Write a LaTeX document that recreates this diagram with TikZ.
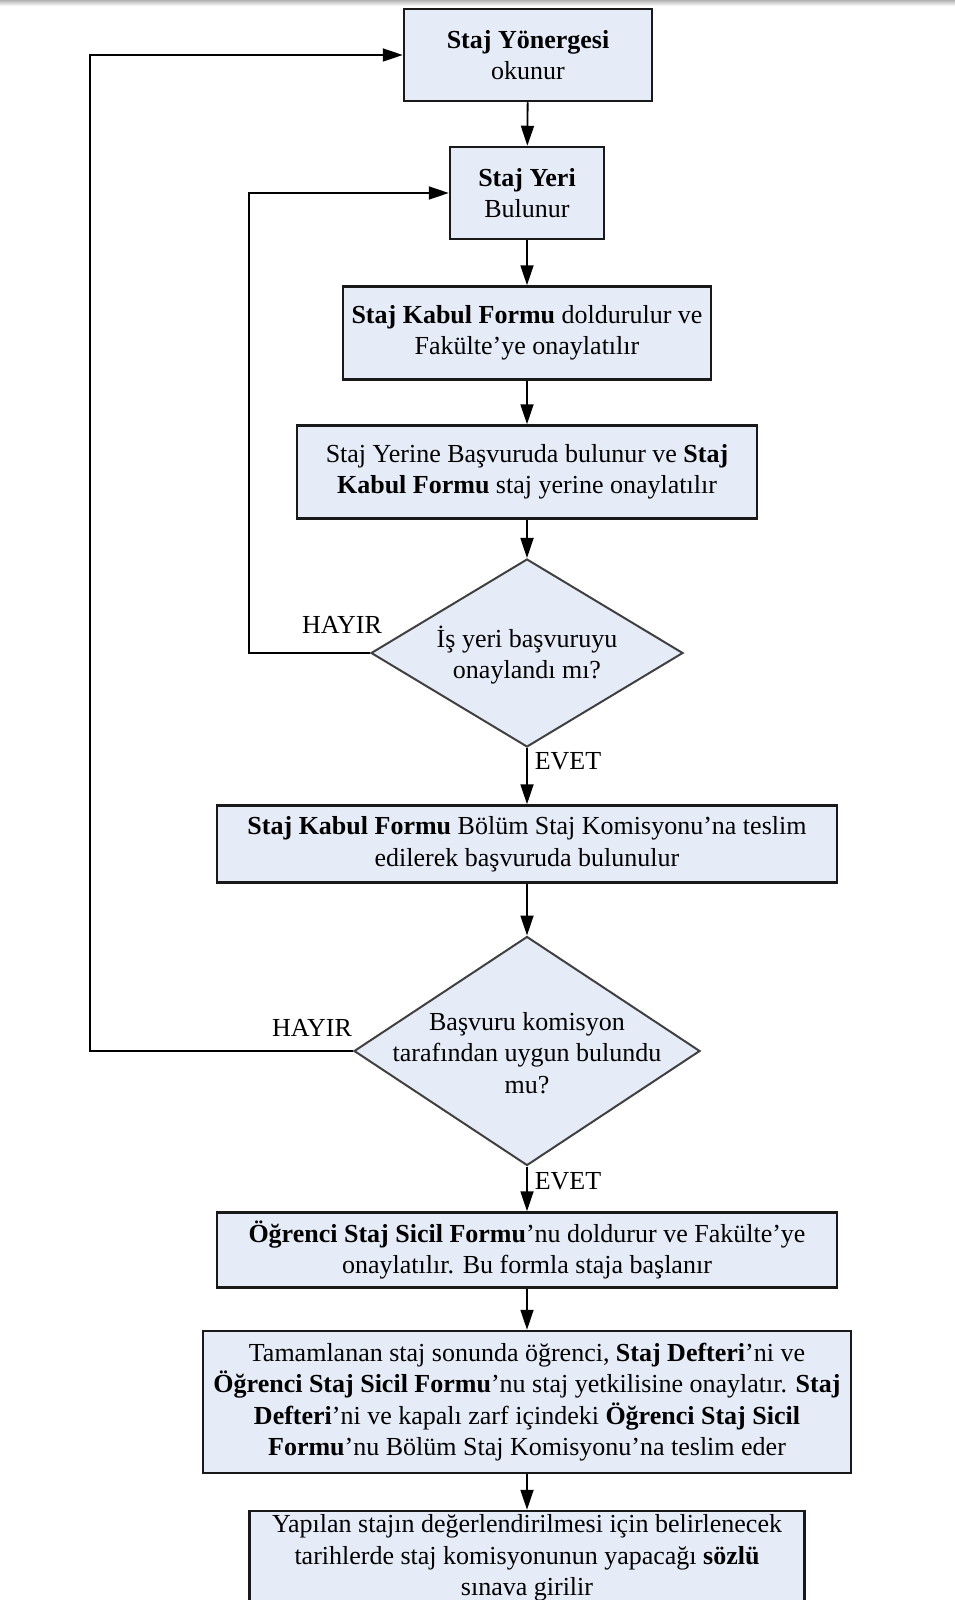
\documentclass[tikz,border=0pt]{standalone}
\usepackage{fontspec}
\setmainfont{Liberation Serif}
\usepackage{tikz}
\usetikzlibrary{arrows.meta, shapes.geometric}

\definecolor{boxblue}{RGB}{230,236,247}
\newcommand\boxfont{\fontsize{26}{31.5}\selectfont}

\tikzset{
  stepbox/.style={draw=black!90, line width=2.5pt, fill=boxblue, align=center, inner sep=0pt, font=\boxfont},
  decision/.style={draw=black!75, line width=2pt, fill=boxblue, shape=diamond, inner sep=0pt},
  question/.style={align=center, font=\boxfont},
  answer/.style={font=\boxfont},
  flow/.style={line width=1.8pt, -{Triangle[length=20pt,width=13pt]}},
}

\begin{document}
\begin{tikzpicture}[x=1pt, y=-1pt]
      \useasboundingbox (0,0) rectangle (955,1600);
      \shade[top color=gray!60, bottom color=white] (0,0) rectangle (955,6);

      \node[stepbox, minimum width=248pt, minimum height=92pt] (yonerge) at (528,55) {\textbf{Staj Yönergesi}\\okunur};
      \node[stepbox, minimum width=154pt, minimum height=92pt] (yer) at (527,193) {\textbf{Staj Yeri}\\Bulunur};
      \node[stepbox, minimum width=368pt, minimum height=93pt] (kabul) at (527,333) {\textbf{Staj Kabul Formu} doldurulur ve\\Fakülte’ye onaylatılır};
      \node[stepbox, minimum width=460pt, minimum height=93pt] (basvuru) at (527,472) {Staj Yerine Başvuruda bulunur ve \textbf{Staj}\\\textbf{Kabul Formu} staj yerine onaylatılır};

      \node[decision, minimum width=312pt, minimum height=188pt] (isyeri) at (527,653) {};
      \node[question] (isyeriq) at (527,655) {İş yeri başvuruyu\\onaylandı mı?};
      \node[answer] (hayir1) at (342,625) {HAYIR};
      \node[answer] (evet1) at (568,761) {EVET};

      \node[stepbox, minimum width=620pt, minimum height=77pt] (teslim) at (527,844) {\textbf{Staj Kabul Formu} Bölüm Staj Komisyonu’na teslim\\edilerek başvuruda bulunulur};

      \node[decision, minimum width=346pt, minimum height=229pt] (komisyon) at (527,1051) {};
      \node[question] (komisyonq) at (527,1053) {Başvuru komisyon\\tarafından uygun bulundu\\mu?};
      \node[answer] (hayir2) at (312,1028) {HAYIR};
      \node[answer] (evet2) at (568,1181) {EVET};

      \node[stepbox, minimum width=620pt, minimum height=75pt] (sicil) at (527,1250) {\textbf{Öğrenci Staj Sicil Formu}’nu doldurur ve Fakülte’ye\\onaylatılır. Bu formla staja başlanır};
      \node[stepbox, minimum width=648pt, minimum height=142pt] (defter) at (527,1402) {Tamamlanan staj sonunda öğrenci, \textbf{Staj Defteri}’ni ve\\\textbf{Öğrenci Staj Sicil Formu}’nu staj yetkilisine onaylatır. \textbf{Staj}\\\textbf{Defteri}’ni ve kapalı zarf içindeki \textbf{Öğrenci Staj Sicil}\\\textbf{Formu}’nu Bölüm Staj Komisyonu’na teslim eder};
      \node[stepbox, minimum width=555pt, minimum height=94pt] (sinav) at (527,1558) {Yapılan stajın değerlendirilmesi için belirlenecek\\tarihlerde staj komisyonunun yapacağı \textbf{sözlü}\\sınava girilir};

      \draw[flow] (yonerge) -- (yer);
      \draw[flow] (yer) -- (kabul);
      \draw[flow] (kabul) -- (basvuru);
      \draw[flow] (basvuru) -- (isyeri);
      \draw[flow] (isyeri) -- (teslim);
      \draw[flow] (teslim) -- (komisyon);
      \draw[flow] (komisyon) -- (sicil);
      \draw[flow] (sicil) -- (defter);
      \draw[flow] (defter) -- (sinav);

      \coordinate (loopA) at (249,653);
      \draw[flow] (isyeri.west) -- (loopA) |- (yer.west);
      \coordinate (loopB) at (90,1051);
      \draw[flow] (komisyon.west) -- (loopB) |- (yonerge.west);

    \end{tikzpicture}
\end{document}
